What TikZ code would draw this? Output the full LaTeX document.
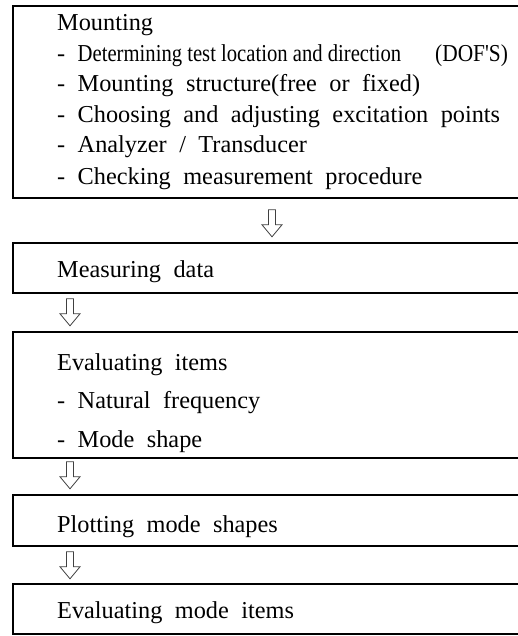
\documentclass[tikz,border=0pt]{standalone}
\usepackage{fontspec}
\setmainfont{Liberation Serif}[WordSpace={2.05}]
\newfontfamily\condfont{Liberation Serif}
\usetikzlibrary{calc}
\tikzset{
  box/.style={draw, line width=1.8pt, rectangle, anchor=north west, inner sep=0pt, minimum width=560pt},
  txt/.style={anchor=base west, inner sep=0pt, font=\fontsize{24.3}{28}\selectfont},
  arr/.style={draw=black!75, line width=0.8pt, fill=white},
  downarr/.pic={\draw[arr] (-3.5pt,0pt) -- (3.5pt,0pt) -- (3.5pt,-15pt) -- (10pt,-15pt) -- (0pt,-27pt) -- (-10pt,-15pt) -- (-3.5pt,-15pt) -- cycle;}
}
\begin{document}
\begin{tikzpicture}[x=1pt,y=1pt]
\useasboundingbox (0,0) rectangle (518,-636);
\clip (0,0) rectangle (518,-636);
% boxes
\node[box, minimum height=192pt] (b1) at (12,-5) {};
\node[box, minimum height=50pt] (b2) at (12,-242) {};
\node[box, minimum height=126pt] (b3) at (12,-331) {};
\node[box, minimum height=51pt] (b4) at (12,-494) {};
\node[box, minimum height=50pt] (b5) at (12,-583) {};
% texts box 1
\node[txt] (t11) at (57,-31) {Mounting};
\node[txt] (t12) at (57,-62) {- {\condfont\scalebox{0.85}[1]{Determining test location and direction}}};
\node[txt] (t12b) at (435,-62) {{\condfont\scalebox{0.88}[1]{(DOF'S)}}};
\node[txt] (t13) at (57,-92) {- Mounting structure(free or fixed)};
\node[txt] (t14) at (57,-123) {- Choosing and adjusting excitation points};
\node[txt] (t15) at (57,-153) {- Analyzer / Transducer};
\node[txt] (t16) at (57,-185) {- Checking measurement procedure};
% box 2
\node[txt] (t21) at (57,-277) {Measuring data};
% box 3
\node[txt] (t31) at (57,-370) {Evaluating items};
\node[txt] (t32) at (57,-408) {- Natural frequency};
\node[txt] (t33) at (57,-447) {- Mode shape};
% box 4
\node[txt] (t41) at (57,-532) {Plotting mode shapes};
% box 5
\node[txt] (t51) at (57,-618) {Evaluating mode items};
% arrows
\pic at ($(b1.south west)+(260,-11)$) {downarr};
\pic at ($(b2.south west)+(58,-5)$) {downarr};
\pic at ($(b3.south west)+(58,-3)$) {downarr};
\pic at ($(b4.south west)+(58,-5)$) {downarr};
\end{tikzpicture}
\end{document}
